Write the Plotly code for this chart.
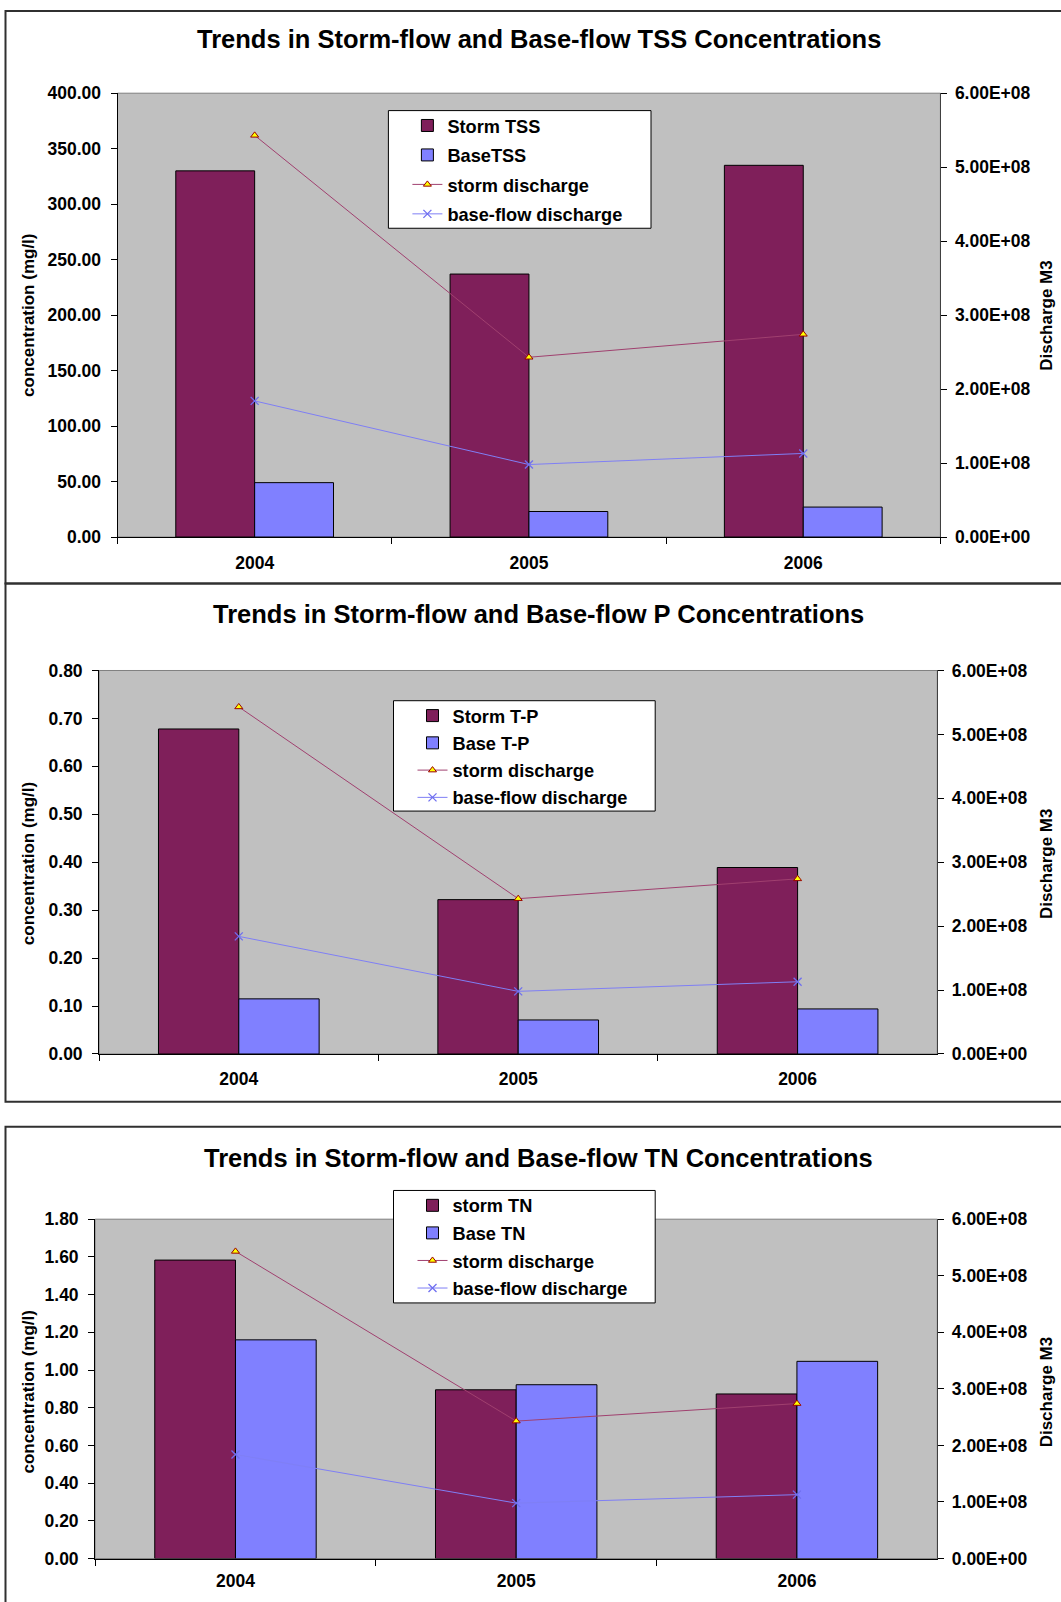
import plotly.graph_objects as go

# ---------------- data ----------------
years = ["2004", "2005", "2006"]

storm_tss = [330, 237, 335]
base_tss = [49, 23, 27]

storm_tp = [0.678, 0.322, 0.389]
base_tp = [0.115, 0.071, 0.094]

storm_tn = [1.583, 0.895, 0.873]
base_tn = [1.160, 0.922, 1.046]

storm_discharge = [5.43e8, 2.43e8, 2.74e8]
base_discharge = [1.84e8, 0.98e8, 1.13e8]

titles = [
    "Trends in Storm-flow and Base-flow TSS Concentrations",
    "Trends in Storm-flow and Base-flow P Concentrations",
    "Trends in Storm-flow and Base-flow TN Concentrations",
]
storm_names = ["Storm TSS", "Storm T-P", "storm TN"]
base_names = ["BaseTSS", "Base T-P", "Base TN"]
left_axis_title = "concentration (mg/l)"
right_axis_title = "Discharge M3"

left_ranges = [400, 0.8, 1.8]
left_dticks = [50, 0.1, 0.2]
right_ticks = [0, 1e8, 2e8, 3e8, 4e8, 5e8, 6e8]
right_tick_labels = [f"{v:.2E}" for v in right_ticks]

storm_series = [storm_tss, storm_tp, storm_tn]
base_series = [base_tss, base_tp, base_tn]

# ---------------- layout (pixels) ----------------
W, H = 1061, 1602


def sy(y):
    # target page pixel -> figure pixel (compensates for capture offset)
    return (y - 8.85) / 0.987


def fx(x):
    return x / W


def fy(y):
    return 1 - sy(y) / H


# plot rectangles: left, right, top, bottom (target pixels)
plots = [
    (117.5, 940.4, 92.0, 535.6),
    (99.1, 937.3, 669.0, 1052.3),
    (95.1, 937.3, 1217.4, 1556.6),
]
xlabel_standoff = [10, 9, 6]
title_y = [37.8, 613.0, 1156.0]
axis_title_y = [314, 862, 1390]
# legend boxes: left, right, top, bottom
legend_boxes = [
    (388.4, 651.0, 109.4, 227.0),
    (393.5, 655.2, 699.2, 809.5),
    (393.5, 655.2, 1188.7, 1301.1),
]
legend_gaps = [2.8, 0.6, 0.9]

STORM_COL = "#7F1F5A"
BASE_COL = "#8080FF"
FONT = "Liberation Sans, Arial, sans-serif"
TICK_SIZE = 17.5
LEG_SIZE = 18.2

fig = go.Figure()
shapes = []
annotations = []

for i in range(3):
    n = "" if i == 0 else str(i + 1)
    xa = "x" + n
    ya = "y" + n
    ya2 = "y" + str(i + 4)
    leg = "legend" if i == 0 else "legend" + str(i + 1)

    fig.add_trace(go.Bar(
        x=years, y=storm_series[i], name=storm_names[i],
        marker=dict(color=STORM_COL, line=dict(color="black", width=1)),
        xaxis=xa, yaxis=ya, legend=leg, legendgroup=f"a{i}",
        offsetgroup="s",
    ))
    fig.add_trace(go.Bar(
        x=years, y=base_series[i], name=base_names[i],
        marker=dict(color=BASE_COL, line=dict(color="black", width=1)),
        xaxis=xa, yaxis=ya, legend=leg, legendgroup=f"b{i}",
        offsetgroup="b",
    ))
    fig.add_trace(go.Scatter(
        x=years, y=storm_discharge, name="storm discharge", mode="lines+markers",
        line=dict(color="#A0406F", width=1),
        marker=dict(symbol="triangle-up", size=7, color="#FFFF00",
                    line=dict(color="#990000", width=1)),
        xaxis=xa, yaxis=ya2, legend=leg, legendgroup=f"c{i}",
    ))
    fig.add_trace(go.Scatter(
        x=years, y=base_discharge, name="base-flow discharge", mode="lines+markers",
        line=dict(color="#7F7FF5", width=1),
        marker=dict(symbol="x-thin", size=8, color="#6F6FF0",
                    line=dict(color="#6F6FF0", width=1.3)),
        xaxis=xa, yaxis=ya2, legend=leg, legendgroup=f"d{i}",
    ))

    l, r, t, b = plots[i]
    fig.layout["xaxis" + n] = dict(
        domain=[fx(l), fx(r)], anchor=ya, type="category",
        showline=True, linecolor="black", linewidth=1,
        ticks="outside", tickson="boundaries", ticklen=6, tickcolor="black",
        ticklabelstandoff=xlabel_standoff[i], showgrid=False, zeroline=False,
        tickfont=dict(size=TICK_SIZE),
    )
    fig.layout["yaxis" + n] = dict(
        domain=[fy(b), fy(t)], anchor=xa, range=[0, left_ranges[i]],
        dtick=left_dticks[i], tick0=0, tickformat=".2f",
        showline=True, linecolor="black", linewidth=1,
        ticks="outside", ticklen=6, tickcolor="black", ticklabelstandoff=6,
        showgrid=False, zeroline=False, tickfont=dict(size=TICK_SIZE),
    )
    fig.layout["yaxis" + str(i + 4)] = dict(
        overlaying=ya, anchor=xa, side="right", range=[0, 6e8],
        tickvals=right_ticks, ticktext=right_tick_labels,
        showline=True, linecolor="#404040", linewidth=1,
        ticks="outside", ticklen=6, tickcolor="black", ticklabelstandoff=4,
        showgrid=False, zeroline=False, tickfont=dict(size=TICK_SIZE),
    )
    # inner half of the cross tick marks on the right axis
    fig.layout["yaxis" + str(i + 7)] = dict(
        overlaying=ya, anchor=xa, side="right", range=[0, 6e8],
        tickvals=right_ticks, showticklabels=False,
        ticks="inside", ticklen=6, tickcolor="black",
        showline=False, showgrid=False, zeroline=False,
    )

    # plot area border
    shapes.append(dict(type="rect", xref="paper", yref="paper",
                       x0=fx(l), x1=fx(r), y0=fy(b), y1=fy(t),
                       line=dict(color="#808080", width=1), layer="below"))

    # legend box
    lb_l, lb_r, lb_t, lb_b = legend_boxes[i]
    shapes.append(dict(type="rect", xref="paper", yref="paper",
                       x0=fx(lb_l), x1=fx(lb_r), y0=fy(lb_b), y1=fy(lb_t),
                       fillcolor="white", line=dict(color="black", width=1),
                       layer="above"))
    fig.layout[leg] = dict(
        x=fx(lb_l + 19), y=1 - (sy(lb_t) - 3.5) / H, xanchor="left", yanchor="top",
        bgcolor="rgba(0,0,0,0)", borderwidth=0,
        font=dict(size=LEG_SIZE, family=FONT, color="black", weight="bold"),
        tracegroupgap=legend_gaps[i], itemwidth=30,
    )

    annotations.append(dict(text=titles[i], xref="paper", yref="paper",
                            x=fx(538.7), y=fy(title_y[i]), xanchor="center",
                            yanchor="middle", showarrow=False,
                            font=dict(size=25.5, family=FONT, weight="bold")))
    annotations.append(dict(text=left_axis_title, xref="paper", yref="paper",
                            x=fx(28.6), y=fy(axis_title_y[i]), xanchor="center",
                            yanchor="middle", showarrow=False, textangle=-90,
                            font=dict(size=17, family=FONT, weight="bold")))
    annotations.append(dict(text=right_axis_title, xref="paper", yref="paper",
                            x=fx(1046.5), y=fy(axis_title_y[i]), xanchor="center",
                            yanchor="middle", showarrow=False, textangle=-90,
                            font=dict(size=17, family=FONT, weight="bold")))

# chart frames (target pixels): left, top, bottom
frames = [(5.5, 9.9, 582.0), (5.5, 582.0, 1100.0), (5.5, 1125.0, 1640.0)]
for (fl, ft, fb) in frames:
    shapes.append(dict(type="rect", xref="paper", yref="paper",
                       x0=fx(fl), x1=fx(1075), y0=fy(fb), y1=fy(ft),
                       line=dict(color="#303030", width=2), layer="below"))

fig.update_layout(
    width=W, height=H, margin=dict(l=0, r=0, t=0, b=0),
    paper_bgcolor="white", plot_bgcolor="#C0C0C0",
    font=dict(family=FONT, size=TICK_SIZE, color="black", weight="bold"),
    barmode="group", bargap=0.425, bargroupgap=0,
    shapes=shapes, annotations=annotations, showlegend=True,
)

fig.write_html(
    "out.html",
    config={"displayModeBar": False},
    post_script=(
        "document.head.insertAdjacentHTML('beforeend',"
        "'<style>html,body{margin:0!important;padding:0!important;"
        "overflow:hidden!important;}</style>');"
        "var gd=document.getElementById('{plot_id}');"
        "gd.style.position='absolute';gd.style.top='0px';gd.style.left='0px';"
    ),
)
